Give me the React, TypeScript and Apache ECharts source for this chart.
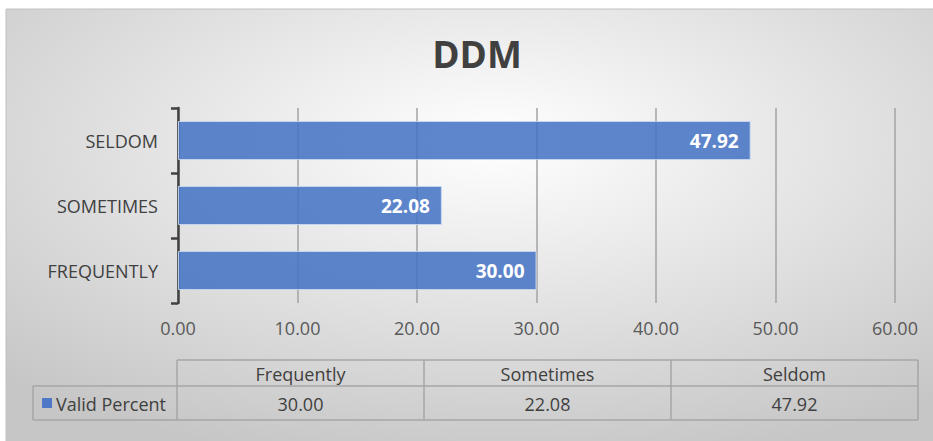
import React, { useEffect, useRef } from "react";
import * as echarts from "echarts";

const title = "DDM";
const categories = ["FREQUENTLY", "SOMETIMES", "SELDOM"];
const tableHeaders = ["Frequently", "Sometimes", "Seldom"];
const seriesName = "Valid Percent";
const values = [30.0, 22.08, 47.92];
const xTicks = [0, 10, 20, 30, 40, 50, 60];

const FONT = "'Open Sans', sans-serif";
const TEXT = "#404040";
const FS = 18;

export default function App() {
  const ref = useRef<HTMLDivElement>(null);
  useEffect(() => {
    if (!ref.current) return;
    const chart = echarts.init(ref.current, undefined, { renderer: "svg" });

    const tLeft = 177, tRight = 918, legLeft = 33;
    const hTop = 360, rowSep = 386, tBottom = 420;
    const colW = (tRight - tLeft) / tableHeaders.length;
    const lineStyle = { stroke: "#A6A6A6", lineWidth: 1.5 };
    const g: any[] = [];
    g.push({
      type: "rect", z: -10, silent: true,
      shape: { x: 6, y: 9, width: 940, height: 440 },
      style: {
        fill: new echarts.graphic.RadialGradient(0.52, 0.3, 0.75, [
          { offset: 0, color: "#FFFFFF" },
          { offset: 1, color: "#C6C6C6" },
        ]),
        stroke: "#C0C0C0", lineWidth: 1,
      },
    });
    g.push({ type: "line", shape: { x1: tLeft, y1: hTop, x2: tRight, y2: hTop }, style: lineStyle });
    g.push({ type: "line", shape: { x1: legLeft, y1: rowSep, x2: tRight, y2: rowSep }, style: lineStyle });
    g.push({ type: "line", shape: { x1: legLeft, y1: tBottom, x2: tRight, y2: tBottom }, style: lineStyle });
    g.push({ type: "line", shape: { x1: legLeft, y1: rowSep, x2: legLeft, y2: tBottom }, style: lineStyle });
    for (let i = 0; i <= tableHeaders.length; i++) {
      const x = tLeft + i * colW;
      g.push({ type: "line", shape: { x1: x, y1: hTop, x2: x, y2: tBottom }, style: lineStyle });
    }
    tableHeaders.forEach((h, i) => {
      const cx = tLeft + (i + 0.5) * colW;
      g.push({
        type: "text", x: cx, y: (hTop + rowSep) / 2 + 1,
        style: { text: h, fill: TEXT, font: `${FS}px ${FONT}`, align: "center", verticalAlign: "middle" },
      });
      g.push({
        type: "text", x: cx, y: (rowSep + tBottom) / 2 + 1,
        style: { text: values[i].toFixed(2), fill: TEXT, font: `${FS}px ${FONT}`, align: "center", verticalAlign: "middle" },
      });
    });
    g.push({ type: "rect", shape: { x: 42, y: 398, width: 10, height: 10 }, style: { fill: "#4F77C8" } });
    g.push({
      type: "text", x: 56, y: (rowSep + tBottom) / 2 + 1,
      style: { text: seriesName, fill: TEXT, font: `${FS}px ${FONT}`, align: "left", verticalAlign: "middle" },
    });

    chart.setOption({
      animation: false,
      backgroundColor: "#FFFFFF",
      title: {
        text: title, left: 472, top: 30, textAlign: "center",
        textStyle: { fontFamily: FONT, fontWeight: "bold", fontSize: 37, color: TEXT },
      },
      grid: { left: 178, right: 38, top: 108, bottom: 138, containLabel: false },
      xAxis: {
        type: "value", min: xTicks[0], max: xTicks[xTicks.length - 1], interval: 10,
        axisLine: { show: false }, axisTick: { show: false },
        splitLine: { show: true, lineStyle: { color: "#A3A3A3", width: 1.5 } },
        axisLabel: { formatter: (v: number) => v.toFixed(2), color: "#595959", fontFamily: FONT, fontSize: FS, margin: 16 },
      },
      yAxis: {
        type: "category", data: categories,
        axisLine: { show: true, lineStyle: { color: "#404040", width: 2.5 } },
        axisTick: { show: true, length: 7, lineStyle: { color: "#404040", width: 2.5 } },
        axisLabel: { color: TEXT, fontFamily: FONT, fontSize: FS, margin: 20 },
      },
      series: [{
        type: "bar", name: seriesName, data: values, barCategoryGap: "40%",
        itemStyle: { color: "rgba(68,114,196,0.86)", borderColor: "rgba(200,215,240,0.9)", borderWidth: 1 },
        label: {
          show: true, position: "insideRight", distance: 12, color: "#FFFFFF",
          fontFamily: FONT, fontWeight: "bold", fontSize: 19,
          formatter: (p: any) => Number(p.value).toFixed(2),
        },
        z: 3,
      }],
      graphic: g,
    });
    return () => chart.dispose();
  }, []);
  return <div ref={ref} style={{ position: "fixed", left: 0, top: 0, width: 933, height: 441 }} />;
}
